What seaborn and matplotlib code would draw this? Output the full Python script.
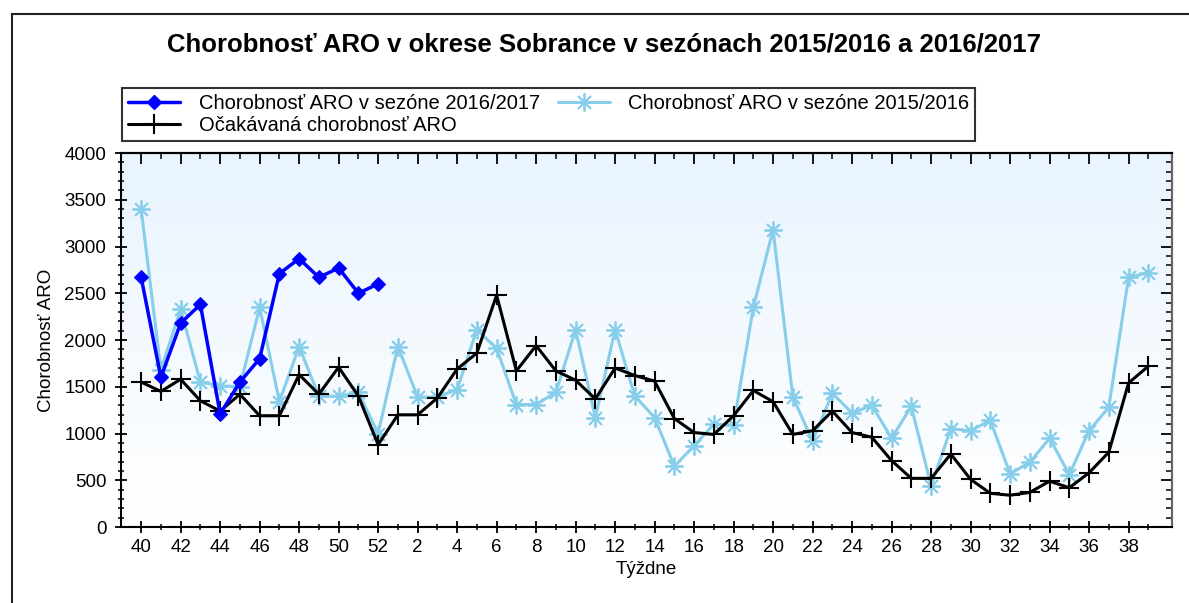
import numpy as np
import pandas as pd
import matplotlib
matplotlib.use("Agg")
import matplotlib.pyplot as plt
from matplotlib.lines import Line2D
from matplotlib.patches import Rectangle
from matplotlib.ticker import MultipleLocator, FixedLocator, NullFormatter
from matplotlib.colors import LinearSegmentedColormap
import seaborn as sns

# ---------------- data ----------------
week_numbers = list(range(40, 53)) + list(range(1, 40))

season_2016_17 = [2670, 1600, 2180, 2380, 1210, 1550, 1800, 2710, 2870, 2670, 2770, 2500, 2600]

season_2015_16 = [3400, 1680, 2330, 1550, 1510, 1500, 2350, 1340, 1930, 1400, 1400, 1440, 1000,
                  1930, 1390, 1390, 1470, 2110, 1910, 1310, 1310, 1440, 2110, 1170, 2110, 1400,
                  1170, 650, 870, 1100, 1090, 2350, 3180, 1390, 920, 1430, 1220, 1300, 950,
                  1290, 440, 1050, 1030, 1140, 570, 690, 950, 560, 1030, 1280, 2670, 2720]

expected = [1550, 1450, 1580, 1350, 1240, 1420, 1190, 1190, 1630, 1420, 1710, 1400, 880,
            1200, 1200, 1380, 1690, 1860, 2480, 1670, 1940, 1670, 1570, 1370, 1700, 1620,
            1560, 1160, 1010, 990, 1190, 1460, 1340, 990, 1030, 1240, 1010, 960, 710,
            520, 520, 780, 510, 360, 340, 370, 490, 420, 580, 800, 1540, 1720]

title = "Chorobnosť ARO v okrese Sobrance v sezónach 2015/2016 a 2016/2017"
label_1617 = "Chorobnosť ARO v sezóne 2016/2017"
label_1516 = "Chorobnosť ARO v sezóne 2015/2016"
label_exp = "Očakávaná chorobnosť ARO"
x_label = "Týždne"
y_label = "Chorobnosť ARO"

# ---------------- style ----------------
sns.set_style("white")
plt.rcParams['font.family'] = ['Liberation Sans', 'DejaVu Sans']
plt.rcParams['text.color'] = 'black'
plt.rcParams['axes.labelcolor'] = 'black'
plt.rcParams['xtick.color'] = 'black'
plt.rcParams['ytick.color'] = 'black'

c_blue = "#0000FF"
c_light = "#87CEEB"
c_black = "#000000"

fig = plt.figure(figsize=(11.89, 6.03), dpi=100)
ax = fig.add_axes([121/1189, 1-527/603, (1172-121)/1189, (527-153)/603])

# gradient background
grad = np.linspace(0, 1, 256).reshape(-1, 1)
cmap = LinearSegmentedColormap.from_list("bg", ["#ffffff", "#e9f4fe"])
ax.imshow(grad, extent=[0, 1, 0, 1], transform=ax.transAxes, cmap=cmap,
          aspect='auto', origin='lower', zorder=0)

idx_all = np.arange(len(week_numbers))
df_prev = pd.DataFrame({"idx": idx_all, "val": season_2015_16})
df_exp = pd.DataFrame({"idx": idx_all, "val": expected})
df_cur = pd.DataFrame({"idx": idx_all[:len(season_2016_17)], "val": season_2016_17})

ast_marker = (8, 2, 0)
sns.lineplot(data=df_prev, x="idx", y="val", ax=ax, color=c_light, lw=2.2,
             marker=ast_marker, markersize=13, mew=1.3, mec=c_light, zorder=3)
sns.lineplot(data=df_exp, x="idx", y="val", ax=ax, color=c_black, lw=2.2,
             marker='+', markersize=14, mew=1.5, mec=c_black, zorder=4)
sns.lineplot(data=df_cur, x="idx", y="val", ax=ax, color=c_blue, lw=2.5,
             marker='D', markersize=7, mec=c_blue, mfc=c_blue, zorder=5)

ax.set_xlim(-1.02, 52.2)
ax.set_ylim(0, 4000)
major_idx = list(range(0, len(week_numbers), 2))

def setup_x(axis):
    axis.xaxis.set_major_locator(FixedLocator(major_idx))
    axis.xaxis.set_minor_locator(FixedLocator(list(idx_all)))

def setup_y(axis):
    axis.yaxis.set_major_locator(MultipleLocator(500))
    axis.yaxis.set_minor_locator(MultipleLocator(100))

setup_x(ax)
setup_y(ax)
ax.set_xticklabels([str(week_numbers[i]) for i in major_idx])

ax.tick_params(which='major', direction='inout', length=9, width=1.3,
               bottom=True, left=True, top=False, right=False,
               labelsize=13.5, color='black')
ax.tick_params(axis='y', which='major', pad=6)
ax.tick_params(axis='x', which='major', pad=4)
ax.tick_params(which='minor', direction='inout', length=5, width=1.1,
               bottom=True, left=True, top=False, right=False, color='black')

# top and right inward ticks
secx = ax.secondary_xaxis('top')
setup_x(secx)
secx.xaxis.set_major_formatter(NullFormatter())
secx.tick_params(which='major', direction='in', length=8, width=1.3, color='black')
secx.tick_params(which='minor', direction='in', length=4, width=1.1, color='black')
secx.spines['top'].set_linewidth(1.5)
secx.spines['top'].set_color('black')

secy = ax.secondary_yaxis('right')
setup_y(secy)
secy.yaxis.set_major_formatter(NullFormatter())
secy.tick_params(which='major', direction='in', length=8, width=1.3, color='black')
secy.tick_params(which='minor', direction='in', length=4, width=1.1, color='black')
secy.spines['right'].set_linewidth(1.5)
secy.spines['right'].set_color('#666666')

for s in ax.spines.values():
    s.set_color('black')
    s.set_linewidth(1.5)
ax.spines['right'].set_color('#666666')

ax.set_xlabel(x_label, fontsize=13.5, labelpad=4)
ax.set_ylabel(y_label, fontsize=13.5, labelpad=7)

fig.text(0.508, 1-45/603, title, ha='center', va='center', fontsize=18.5, fontweight='bold')

handles = [
    Line2D([], [], color=c_blue, lw=2.5, marker='D', markersize=7),
    Line2D([], [], color=c_black, lw=2.2, marker='+', markersize=14, mew=1.5),
    Line2D([], [], color=c_light, lw=2.2, marker=ast_marker, markersize=13, mew=1.3),
]
labels = [label_1617, label_exp, label_1516]
leg = fig.legend(handles, labels, ncol=2, loc='upper left',
                 bbox_to_anchor=(122/1189, 1-88/603),
                 fontsize=14.5, frameon=True, fancybox=False,
                 shadow=False, borderpad=0.3, handlelength=2.6, handletextpad=0.9,
                 labelspacing=0.15, columnspacing=0.9, borderaxespad=0)
leg.get_frame().set_edgecolor('black')
leg.get_frame().set_linewidth(1.5)

# outer frame
fig.patches.append(Rectangle((12/1189, -0.1), 1.2, 1.1 - 14/603,
                             transform=fig.transFigure, fill=False,
                             edgecolor='#222222', lw=1.5))

fig.savefig("out.png", dpi=100)
